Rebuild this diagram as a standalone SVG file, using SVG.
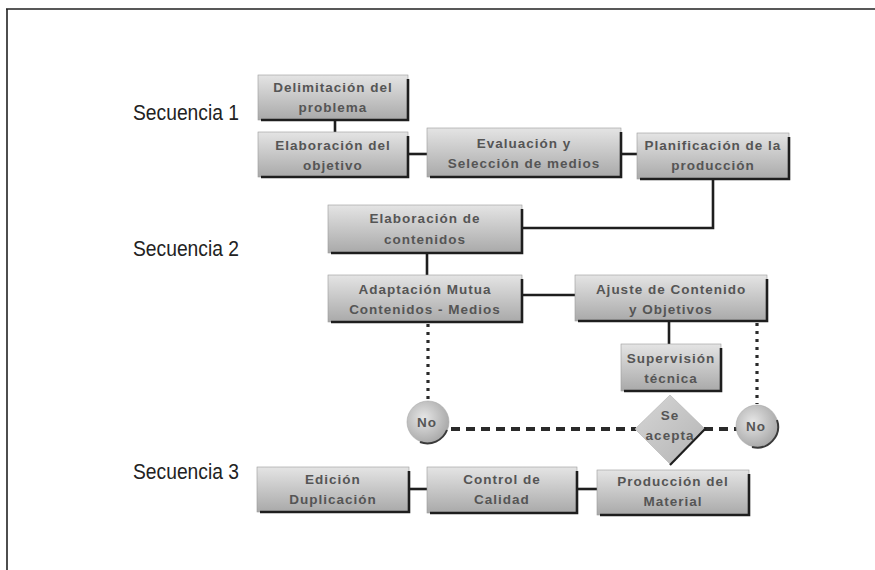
<svg xmlns="http://www.w3.org/2000/svg" width="875" height="570" viewBox="0 0 875 570">
  <style>
    .box { fill: url(#boxFill); stroke: #9a9a9a; stroke-width: 0.6; }
    .edge { fill: none; stroke: #1e1e1e; stroke-width: 2.6; }
    .halo { fill: none; stroke: #c4c4c4; stroke-width: 2; }
    .lbl { font-family: "Liberation Sans", Arial, sans-serif; font-size: 13.5px; font-weight: bold; fill: #555; letter-spacing: 1px; text-anchor: middle; }
    .seq { font-family: "Liberation Sans", Arial, sans-serif; font-size: 22px; fill: #222; }
    .link { fill: none; stroke: #1e1e1e; stroke-width: 2.6; }
    .dots { fill: none; stroke: #2a2a2a; stroke-width: 3.2; stroke-dasharray: 3 5; }
    .dash { fill: none; stroke: #2a2a2a; stroke-width: 4; stroke-dasharray: 9 6; }
    .frame { fill: none; stroke: #222; stroke-width: 1.6; }
  </style>
  <defs>
    <linearGradient id="boxFill" x1="0" y1="0" x2="0" y2="1">
      <stop offset="0" stop-color="#e4e4e4"/>
      <stop offset="1" stop-color="#a9a9a9"/>
    </linearGradient>
    <radialGradient id="ballFill" cx="0.4" cy="0.4" r="0.65">
      <stop offset="0" stop-color="#e6e6e6"/>
      <stop offset="1" stop-color="#a6a6a6"/>
    </radialGradient>
    <linearGradient id="diamondFill" x1="0" y1="0" x2="1" y2="1">
      <stop offset="0" stop-color="#d6d6d6"/>
      <stop offset="1" stop-color="#b4b4b4"/>
    </linearGradient>
  </defs>

  <!-- page frame -->
  <path class="frame" d="M6,9 H875 M7,9 V570"/>

  <!-- sequence captions -->
  <text class="seq" x="133" y="120" textLength="106" lengthAdjust="spacingAndGlyphs">Secuencia 1</text>
  <text class="seq" x="133" y="256" textLength="106" lengthAdjust="spacingAndGlyphs">Secuencia 2</text>
  <text class="seq" x="133" y="479" textLength="106" lengthAdjust="spacingAndGlyphs">Secuencia 3</text>

  <!-- connectors -->
  <g id="connectors">
    <path class="link" d="M335,120 V132"/>
    <path class="link" d="M408,154 H427"/>
    <path class="link" d="M621,154 H637"/>
    <path class="link" d="M713,179 V228 H522"/>
    <path class="link" d="M427,253 V275"/>
    <path class="link" d="M522,295 H575"/>
    <path class="link" d="M669,321 V344"/>
    <path class="link" d="M409,489 H427"/>
    <path class="link" d="M577,489 H597"/>
    <path class="dots" d="M428,324 V400"/>
    <path class="dots" d="M757,323 V404"/>
    <path class="dash" d="M451,429 H636"/>
    <path class="dash" d="M704,429 H737"/>
  </g>

  <!-- process boxes -->
  <g id="delimitacion">
    <rect class="box" x="258" y="75" width="150" height="45"/>
    <path class="edge" d="M261,120 H408 V79"/>
    <text class="lbl" x="333" y="92">Delimitación del</text>
    <text class="lbl" x="333" y="112">problema</text>
  </g>
  <g id="objetivo">
    <rect class="box" x="258" y="132" width="150" height="45"/>
    <path class="edge" d="M261,177 H408 V136"/>
    <text class="lbl" x="333" y="150">Elaboración del</text>
    <text class="lbl" x="333" y="170">objetivo</text>
  </g>
  <g id="evaluacion">
    <rect class="box" x="427" y="128" width="194" height="49"/>
    <path class="edge" d="M430,177 H621 V132"/>
    <text class="lbl" x="524" y="148">Evaluación y</text>
    <text class="lbl" x="524" y="168">Selección de medios</text>
  </g>
  <g id="planificacion">
    <rect class="box" x="637" y="133" width="152" height="46"/>
    <path class="edge" d="M640,179 H789 V137"/>
    <text class="lbl" x="713" y="150">Planificación de la</text>
    <text class="lbl" x="713" y="170">producción</text>
  </g>
  <g id="contenidos">
    <rect class="box" x="328" y="205" width="194" height="48"/>
    <path class="edge" d="M331,253 H522 V209"/>
    <text class="lbl" x="425" y="223">Elaboración de</text>
    <text class="lbl" x="425" y="244">contenidos</text>
  </g>
  <g id="adaptacion">
    <rect class="box" x="328" y="275" width="194" height="47"/>
    <path class="edge" d="M331,322 H522 V279"/>
    <text class="lbl" x="425" y="294">Adaptación Mutua</text>
    <text class="lbl" x="425" y="314">Contenidos - Medios</text>
  </g>
  <g id="ajuste">
    <rect class="box" x="575" y="275" width="192" height="46"/>
    <path class="edge" d="M578,321 H767 V279"/>
    <text class="lbl" x="671" y="294">Ajuste de Contenido</text>
    <text class="lbl" x="671" y="314">y Objetivos</text>
  </g>
  <g id="supervision">
    <rect class="box" x="621" y="344" width="100" height="47"/>
    <path class="edge" d="M624,391 H721 V348"/>
    <text class="lbl" x="671" y="363">Supervisión</text>
    <text class="lbl" x="671" y="383">técnica</text>
  </g>

  <!-- decision and rejection markers -->
  <g id="no-izquierda">
    <circle cx="428" cy="422" r="21" fill="url(#ballFill)" stroke="#aaa" stroke-width="0.6"/>
    <path d="M447,430 A21,21 0 0 1 420,442" fill="none" stroke="#3a3a3a" stroke-width="2"/>
    <text class="lbl" x="427" y="427" letter-spacing="0">No</text>
  </g>
  <g id="se-acepta">
    <polygon points="670,395 705,429 670,464 635,429" fill="url(#diamondFill)" stroke="#b0b0b0" stroke-width="0.6"/>
    <path d="M706,428 L670,465" fill="none" stroke="#1e1e1e" stroke-width="2.2"/>
    <text class="lbl" x="670" y="420">Se</text>
    <text class="lbl" x="670" y="440">acepta</text>
  </g>
  <g id="no-derecha">
    <circle cx="757" cy="426" r="21" fill="url(#ballFill)" stroke="#aaa" stroke-width="0.6"/>
    <path d="M777,420 A21,21 0 0 1 752,447" fill="none" stroke="#3a3a3a" stroke-width="2"/>
    <text class="lbl" x="756" y="431" letter-spacing="0">No</text>
  </g>

  <!-- production boxes -->
  <g id="edicion">
    <rect class="box" x="257" y="467" width="152" height="45"/>
    <path class="edge" d="M260,512 H409 V471"/>
    <text class="lbl" x="333" y="484">Edición</text>
    <text class="lbl" x="333" y="504">Duplicación</text>
  </g>
  <g id="control">
    <rect class="box" x="427" y="467" width="150" height="46"/>
    <path class="edge" d="M430,513 H577 V471"/>
    <text class="lbl" x="502" y="484">Control de</text>
    <text class="lbl" x="502" y="504">Calidad</text>
  </g>
  <g id="produccion">
    <rect class="box" x="597" y="470" width="152" height="45"/>
    <path class="edge" d="M600,515 H749 V474"/>
    <text class="lbl" x="673" y="486">Producción del</text>
    <text class="lbl" x="673" y="506">Material</text>
  </g>
</svg>
